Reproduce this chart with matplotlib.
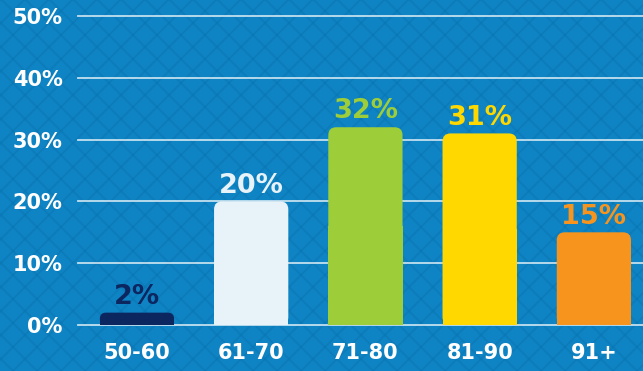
import numpy as np
import matplotlib
matplotlib.use("Agg")
import matplotlib.pyplot as plt
from matplotlib.patches import FancyBboxPatch, Rectangle

categories = ["50-60", "61-70", "71-80", "81-90", "91+"]
values = [2, 20, 32, 31, 15]
labels = ["2%", "20%", "32%", "31%", "15%"]
yticks = [0, 10, 20, 30, 40, 50]
ytick_labels = ["0%", "10%", "20%", "30%", "40%", "50%"]
colors = ["#0c2660", "#e8f2f9", "#9dcd38", "#ffd800", "#f7941e"]

W, H = 643, 371
bg = "#0f84c4"
plt.rcParams["font.family"] = ["DejaVu Sans"]

fig = plt.figure(figsize=(W / 100, H / 100), dpi=100, facecolor=bg)

# background crosshatch pattern
bgax = fig.add_axes([0, 0, 1, 1], zorder=-5)
bgax.set_xlim(0, W); bgax.set_ylim(0, H); bgax.axis("off")
step = 24
for c in np.arange(-H, W + H, step):
    bgax.plot([c, c + H], [0, H], color="#0b76b3", lw=1.3, alpha=0.6)
    bgax.plot([c, c - H], [0, H], color="#0b76b3", lw=1.3, alpha=0.6)

x0, x1 = 78, 643
ybot, ytop = 325, 16
ax = fig.add_axes([x0 / W, (H - ybot) / H, (x1 - x0) / W, (ybot - ytop) / H])
ax.set_facecolor("none")
ax.set_xlim(-0.516, 4.43)
ax.set_ylim(0, 50)

for y in yticks:
    ax.axhline(y, color="white", lw=1.3, alpha=0.75, clip_on=False, zorder=1)

px_x = (x1 - x0) / (ax.get_xlim()[1] - ax.get_xlim()[0])
px_y = (ybot - ytop) / 50.0
aspect = px_x / px_y
width = 0.65
r = 8 / px_x

for i, (v, c, lab) in enumerate(zip(values, colors, labels)):
    left = i - width / 2
    rr = min(r, v / aspect / 2)
    box = FancyBboxPatch((left, 0), width, v,
                         boxstyle=f"round,pad=0,rounding_size={rr}",
                         mutation_aspect=aspect, fc=c, ec="none", zorder=2)
    ax.add_patch(box)
    ax.add_patch(Rectangle((left, 0), width, v / 2, fc=c, ec="none", zorder=2))
    ax.annotate(lab, (i, v), xytext=(0, 2), textcoords="offset points",
                ha="center", va="bottom", color=c, fontsize=19.5,
                fontweight="heavy", zorder=3)

ax.set_xticks(range(len(categories)))
ax.set_xticklabels(categories)
ax.set_yticks(yticks)
ax.set_yticklabels(ytick_labels)
ax.tick_params(axis="both", length=0, colors="white", labelsize=15)
ax.tick_params(axis="y", pad=11)
ax.tick_params(axis="x", pad=13)
for t in ax.get_xticklabels() + ax.get_yticklabels():
    t.set_fontweight("bold")
for s in ax.spines.values():
    s.set_visible(False)

fig.savefig("out.png", dpi=100, facecolor=bg)
